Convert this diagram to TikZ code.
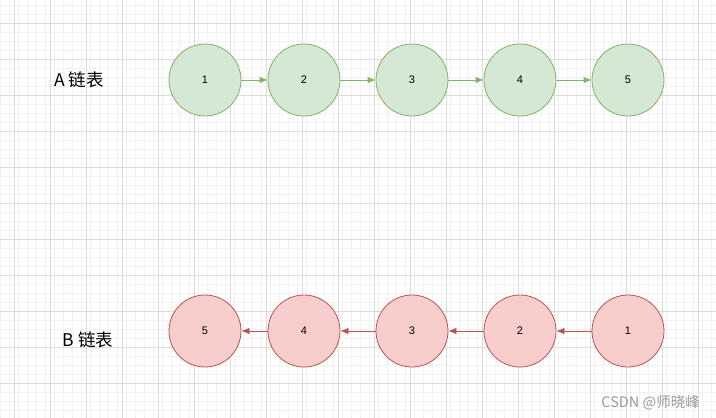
\documentclass[tikz,border=0pt]{standalone}
\usepackage{fontspec}
\setmainfont{Liberation Sans}
\newfontfamily\cjk{Noto Sans CJK SC}
\usetikzlibrary{arrows.meta}
\definecolor{gfill}{HTML}{D5E8D4}
\definecolor{gline}{HTML}{82B366}
\definecolor{rfill}{HTML}{F8CECC}
\definecolor{rline}{HTML}{B85450}
\definecolor{minorgrid}{HTML}{F2F2F2}
\definecolor{majorgrid}{HTML}{DCDCDC}
\definecolor{wm}{HTML}{9A9A9A}
\begin{document}
\begin{tikzpicture}[x=1pt,y=-1pt,
  gnode/.style={circle,draw=gline,fill=gfill,line width=0.8pt,minimum size=72pt,inner sep=0pt,font=\fontsize{11}{13}\selectfont},
  rnode/.style={circle,draw=rline,fill=rfill,line width=0.8pt,minimum size=72pt,inner sep=0pt,font=\fontsize{11}{13}\selectfont},
  garrow/.style={draw=gline,line width=0.8pt,-{Latex[length=8pt,width=6.5pt]}},
  rarrow/.style={draw=rline,line width=0.8pt,-{Latex[length=8pt,width=6.5pt]}},
  lab/.style={font=\cjk\fontsize{17.5}{20}\selectfont,inner sep=0pt}]
\useasboundingbox (0,0) rectangle (716,418);
\fill[white] (0,0) rectangle (716,418);
\foreach \i in {0,...,80} {\draw[minorgrid,line width=0.6pt] ({0.5+9*\i},0) -- ({0.5+9*\i},418);}
\foreach \i in {0,...,47} {\draw[minorgrid,line width=0.6pt] (0,{5.5+9*\i}) -- (716,{5.5+9*\i});}
\foreach \i in {0,...,19} {\draw[majorgrid,line width=0.8pt] ({14.5+36*\i},0) -- ({14.5+36*\i},418);}
\foreach \i in {0,...,11} {\draw[majorgrid,line width=0.8pt] (0,{23.5+36*\i}) -- (716,{23.5+36*\i});}

\node[lab] (la) at (79,80) {A 链表};
\node[lab] (lb) at (88,340) {B 链表};

\node[gnode] (a1) at (205,80) {1};
\node[gnode] (a2) at (304,80) {2};
\node[gnode] (a3) at (412,80) {3};
\node[gnode] (a4) at (520,80) {4};
\node[gnode] (a5) at (628,80) {5};
\draw[garrow] (a1) -- (a2);
\draw[garrow] (a2) -- (a3);
\draw[garrow] (a3) -- (a4);
\draw[garrow] (a4) -- (a5);

\node[rnode] (b5) at (205,331) {5};
\node[rnode] (b4) at (304,331) {4};
\node[rnode] (b3) at (412,331) {3};
\node[rnode] (b2) at (520,331) {2};
\node[rnode] (b1) at (628,331) {1};
\draw[rarrow] (b1) -- (b2);
\draw[rarrow] (b2) -- (b3);
\draw[rarrow] (b3) -- (b4);
\draw[rarrow] (b4) -- (b5);

\node[font=\cjk\fontsize{14.5}{16}\selectfont,text=wm,anchor=east,inner sep=0pt] (wmk) at (700,403) {CSDN @师晓峰};
\end{tikzpicture}
\end{document}
